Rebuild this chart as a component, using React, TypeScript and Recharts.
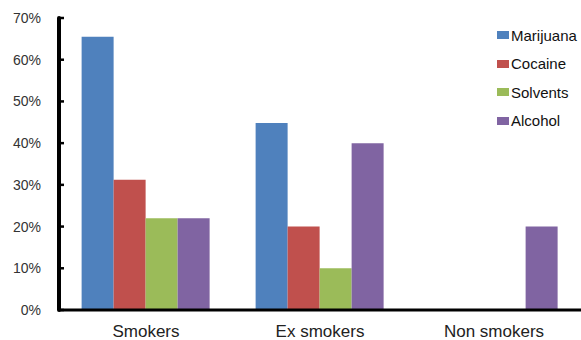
import { BarChart, Bar, XAxis, YAxis } from "recharts";

const categories = ["Smokers", "Ex smokers", "Non smokers"];
const marijuana = [65.5, 44.8, 0];
const cocaine = [31.2, 20, 0];
const solvents = [22, 10, 0];
const alcohol = [22, 40, 20];
const yTicks = [0, 10, 20, 30, 40, 50, 60, 70];

const series = [
  { key: "marijuana", name: "Marijuana", color: "#4F81BD" },
  { key: "cocaine", name: "Cocaine", color: "#C0504D" },
  { key: "solvents", name: "Solvents", color: "#9BBB59" },
  { key: "alcohol", name: "Alcohol", color: "#8064A2" },
];

const data = categories.map((c, i) => ({
  name: c,
  marijuana: marijuana[i],
  cocaine: cocaine[i],
  solvents: solvents[i],
  alcohol: alcohol[i],
}));

const font = "'Liberation Sans', Arial, sans-serif";

const YTick = (props: any) => {
  const { x, y, payload } = props;
  return (
    <g>
      <text x={x} y={y} dy={5} textAnchor="end" fontSize={14} fill="#333" fontFamily={font}>
        {payload.value}%
      </text>
      <line x1={x + 18} x2={x + 23} y1={y} y2={y} stroke="#000" strokeWidth={2.5} />
    </g>
  );
};

const XTick = (props: any) => {
  const { x, y, payload } = props;
  return (
    <text x={x} y={y + 25} textAnchor="middle" fontSize={17} fill="#222" fontFamily={font}>
      {payload.value}
    </text>
  );
};

// legend sits over the plot at the right, like the original, so it is kept out of recharts' layout
const LegendBox = () => (
  <div style={{ position: "absolute", left: 497, top: 21, fontFamily: font, fontSize: 15, color: "#111" }}>
    {series.map((s) => (
      <div key={s.key} style={{ display: "flex", alignItems: "center", height: 28.5, whiteSpace: "nowrap" }}>
        <span style={{ width: 12, height: 8, background: s.color, marginRight: 2, display: "inline-block" }} />
        <span>{s.name}</span>
      </div>
    ))}
  </div>
);

export default function App() {
  return (
    <div style={{ position: "fixed", left: 0, top: 0, width: 581, height: 340, background: "#fff", overflow: "hidden" }}>
      <BarChart
        width={581}
        height={340}
        data={data}
        margin={{ top: 18, right: 0, bottom: 0, left: 0 }}
        barCategoryGap="13%"
        barGap={0}
      >
        <XAxis
          dataKey="name"
          height={30}
          tick={<XTick />}
          tickLine={false}
          tickSize={0}
          axisLine={{ stroke: "#000", strokeWidth: 3 }}
          interval={0}
        />
        <YAxis
          width={59}
          domain={[0, 70]}
          ticks={yTicks}
          tick={<YTick />}
          tickLine={false}
          tickSize={0}
          tickMargin={18}
          axisLine={{ stroke: "#000", strokeWidth: 4, strokeLinecap: "round" }}
          interval={0}
        />
        {series.map((s) => (
          <Bar key={s.key} dataKey={s.key} name={s.name} fill={s.color} isAnimationActive={false} />
        ))}
      </BarChart>
      <LegendBox />
    </div>
  );
}
